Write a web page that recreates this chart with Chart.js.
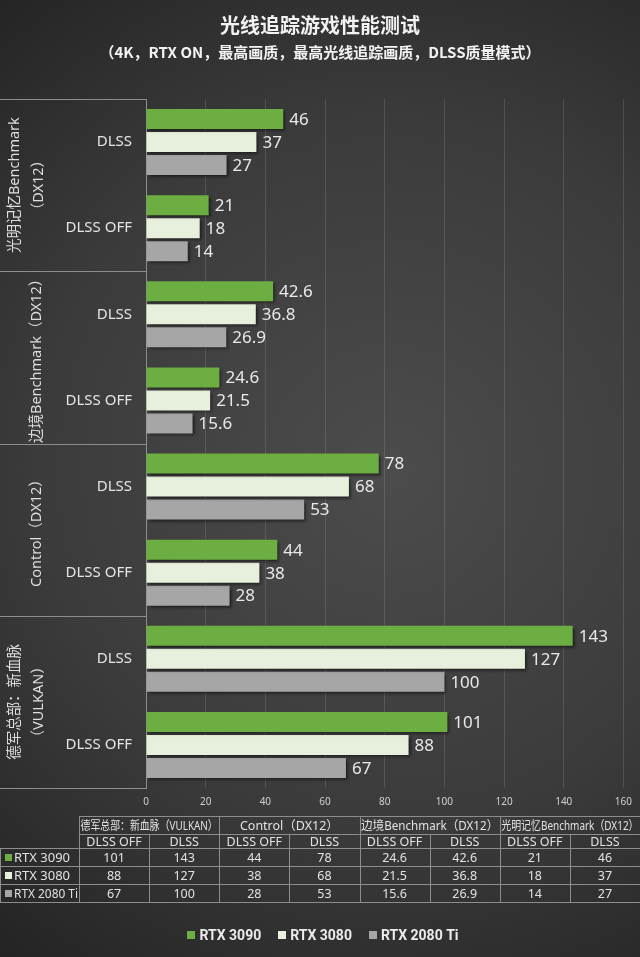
<!DOCTYPE html>
<html><head><meta charset="utf-8">
<script src="https://cdn.jsdelivr.net/npm/chart.js@4.4.1/dist/chart.umd.min.js"></script>
<style>html,body{margin:0;padding:0;background:#2b2b2b;overflow:hidden}#wrap{width:640px;height:957px}canvas{display:block}</style>
</head><body><div id="wrap"><canvas id="c"></canvas></div>
<script>
// ---- data (table order, i.e. Excel order: bottom of chart first) ----
const games = ['德军总部：新血脉（VULKAN）', 'Control（DX12）', '边境Benchmark（DX12）', '光明记忆Benchmark（DX12）'];
const gameAxisLines = [['德军总部：新血脉', '（VULKAN）'], ['Control（DX12）'], ['边境Benchmark（DX12）'], ['光明记忆Benchmark', '（DX12）']];
const categories = ['DLSS OFF', 'DLSS', 'DLSS OFF', 'DLSS', 'DLSS OFF', 'DLSS', 'DLSS OFF', 'DLSS'];
const seriesNames = ['RTX 3090', 'RTX 3080', 'RTX 2080 Ti'];
const rtx3090 = [101, 143, 44, 78, 24.6, 42.6, 21, 46];
const rtx3080 = [88, 127, 38, 68, 21.5, 36.8, 18, 37];
const rtx2080ti = [67, 100, 28, 53, 15.6, 26.9, 14, 27];
const xMin = 0, xMax = 160, xStep = 20;
const titleText = '光线追踪游戏性能测试';
const subtitleText = '（4K，RTX ON，最高画质，最高光线追踪画质，DLSS质量模式）';

const colors = ['#6cae42', '#e7f0dd', '#a6a6a6'];
const FONT = "'Noto Sans', 'Noto Sans CJK SC', sans-serif";
const CJK = "'Noto Sans CJK SC', 'Noto Sans', sans-serif";
const LINE = '#8d8d8d';
Chart.defaults.font.family = FONT;

const deco = {
  id: 'deco',
  beforeDraw(chart) {
    const ctx = chart.ctx, w = chart.width, h = chart.height;
    ctx.save();
    const g = ctx.createRadialGradient(390, 470, 0, 390, 470, 640);
    g.addColorStop(0, '#4c4c4c');
    g.addColorStop(0.55, '#3b3b3b');
    g.addColorStop(1, '#222222');
    ctx.fillStyle = g;
    ctx.fillRect(0, 0, w, h);
    ctx.restore();
  },
  beforeDatasetsDraw(chart) {
    const ctx = chart.ctx;
    ctx.save();
    ctx.shadowColor = 'rgba(0,0,0,0.55)';
    ctx.shadowBlur = 3;
    ctx.shadowOffsetX = 2;
    ctx.shadowOffsetY = 2;
  },
  afterDatasetsDraw(chart) {
    const ctx = chart.ctx;
    ctx.restore();
    ctx.save();
    ctx.fillStyle = '#e9e9e9';
    ctx.font = '17px ' + FONT;
    ctx.textAlign = 'left';
    ctx.textBaseline = 'middle';
    chart.data.datasets.forEach((ds, di) => {
      chart.getDatasetMeta(di).data.forEach((bar, i) => {
        ctx.fillText(String(ds.data[i]), bar.x + 6, bar.y + 1);
      });
    });
    ctx.restore();
  },
  afterDraw(chart) {
    const ctx = chart.ctx;
    const y = chart.scales.y;
    ctx.save();
    // titles
    ctx.fillStyle = '#f2f2f2';
    ctx.textAlign = 'center';
    ctx.textBaseline = 'middle';
    ctx.font = 'bold 20px ' + CJK;
    ctx.fillText(titleText, 320, 25);
    ctx.font = 'bold 15px ' + CJK;
    ctx.fillText(subtitleText, 320, 52);

    // group boxes on the left
    const n = categories.length;
    const band = (y.bottom - y.top) / n;
    ctx.strokeStyle = LINE;
    ctx.lineWidth = 1;
    const edges = [];
    for (let gi = 0; gi <= games.length; gi++) edges.push(Math.round(y.top + gi * 2 * band) + 0.5);
    ctx.beginPath();
    edges.forEach(e => { ctx.moveTo(0, e); ctx.lineTo(y.right, e); });
    ctx.stroke();
    // group labels (reverse axis: game 0 is at the bottom)
    ctx.fillStyle = '#dedede';
    ctx.font = '14.5px ' + FONT;
    for (let gi = 0; gi < games.length; gi++) {
      const c0 = y.getPixelForValue(2 * gi), c1 = y.getPixelForValue(2 * gi + 1);
      const cy = (c0 + c1) / 2;
      const lines = gameAxisLines[gi];
      const xs = lines.length === 2 ? [14, 38] : [36];
      lines.forEach((t, li) => {
        ctx.save();
        ctx.translate(xs[li], cy);
        ctx.rotate(-Math.PI / 2);
        ctx.fillText(t, 0, 1);
        ctx.restore();
      });
    }

    // data table
    const tx0 = 79, tx1 = 640;
    const cw = (tx1 - tx0) / categories.length;
    const rows = [816, 834, 848, 866, 884, 902];
    const colX = i => tx0 + i * cw;
    ctx.beginPath();
    ctx.moveTo(tx0, rows[0] + 0.5); ctx.lineTo(tx1, rows[0] + 0.5);
    for (let r = 1; r < rows.length; r++) {
      const x0 = r >= 2 ? 0 : tx0;
      ctx.moveTo(x0, rows[r] + 0.5); ctx.lineTo(tx1, rows[r] + 0.5);
    }
    for (let i = 0; i <= categories.length; i++) {
      const x = Math.round(colX(i)) + 0.5;
      const top = (i % 2 === 0) ? rows[0] : rows[1];
      ctx.moveTo(x, top); ctx.lineTo(x, rows[5]);
    }
    ctx.moveTo(0.5, rows[2]); ctx.lineTo(0.5, rows[5]);
    ctx.stroke();

    ctx.fillStyle = '#e2e2e2';
    ctx.textAlign = 'center';
    ctx.font = '12.5px ' + FONT;
    games.forEach((g, gi) => {
      ctx.fillText(g, colX(2 * gi + 1), (rows[0] + rows[1]) / 2 + 1, 2 * cw - 3);
    });
    categories.forEach((c, i) => {
      ctx.fillText(c, colX(i) + cw / 2, (rows[1] + rows[2]) / 2 + 1, cw - 4);
    });
    const seriesData = [rtx3090, rtx3080, rtx2080ti];
    seriesData.forEach((arr, si) => {
      const cy = (rows[2 + si] + rows[3 + si]) / 2 + 1;
      ctx.textAlign = 'center';
      ctx.font = '12.5px ' + FONT;
      arr.forEach((v, i) => ctx.fillText(String(v), colX(i) + cw / 2, cy));
      ctx.fillStyle = colors[si];
      ctx.fillRect(5, Math.round(cy) - 4, 7, 7);
      ctx.fillStyle = '#e2e2e2';
      ctx.textAlign = 'left';
      ctx.font = '13px ' + FONT;
      ctx.fillText(seriesNames[si], 14, cy, tx0 - 15);
    });

    // legend
    ctx.font = 'bold 14px Roboto, ' + FONT;
    const sq = 8, gapT = 4, gapI = 17;
    const widths = chart.data.datasets.map(ds => sq + gapT + ctx.measureText(ds.label).width);
    const total = widths.reduce((a, b) => a + b, 0) + gapI * (widths.length - 1);
    let lx = 323 - total / 2;
    const ly = 935;
    ctx.textAlign = 'left';
    chart.data.datasets.forEach((ds, i) => {
      ctx.fillStyle = ds.backgroundColor;
      ctx.fillRect(Math.round(lx), ly - 4, sq, sq);
      ctx.fillStyle = '#ebebeb';
      ctx.fillText(ds.label, lx + sq + gapT, ly + 1);
      lx += widths[i] + gapI;
    });
    ctx.restore();
  }
};

new Chart(document.getElementById('c'), {
  type: 'bar',
  data: {
    labels: categories,
    datasets: [
      { label: seriesNames[0], data: rtx3090, backgroundColor: colors[0] },
      { label: seriesNames[1], data: rtx3080, backgroundColor: colors[1] },
      { label: seriesNames[2], data: rtx2080ti, backgroundColor: colors[2] }
    ]
  },
  options: {
    indexAxis: 'y',
    responsive: true,
    maintainAspectRatio: false,
    animation: false,
    datasets: { bar: { barPercentage: 0.87, categoryPercentage: 0.8 } },
    layout: { padding: { top: 99, right: 14, left: 0, bottom: 0 } },
    scales: {
      y: {
        reverse: true,
        grid: { display: false, drawTicks: false },
        border: { display: true, color: LINE, width: 1 },
        ticks: { color: '#e4e4e4', font: { size: 15 }, padding: 14 },
        afterFit(s) { s.width = 146; }
      },
      x: {
        min: xMin, max: xMax,
        grid: { color: 'rgba(255,255,255,0.12)', drawTicks: false },
        border: { display: false },
        ticks: { stepSize: xStep, color: '#cfcfcf', font: { size: 10 }, padding: 8 },
        afterFit(s) { s.height = 169; }
      }
    },
    plugins: { legend: { display: false }, tooltip: { enabled: false } }
  },
  plugins: [deco]
});
</script></body></html>
